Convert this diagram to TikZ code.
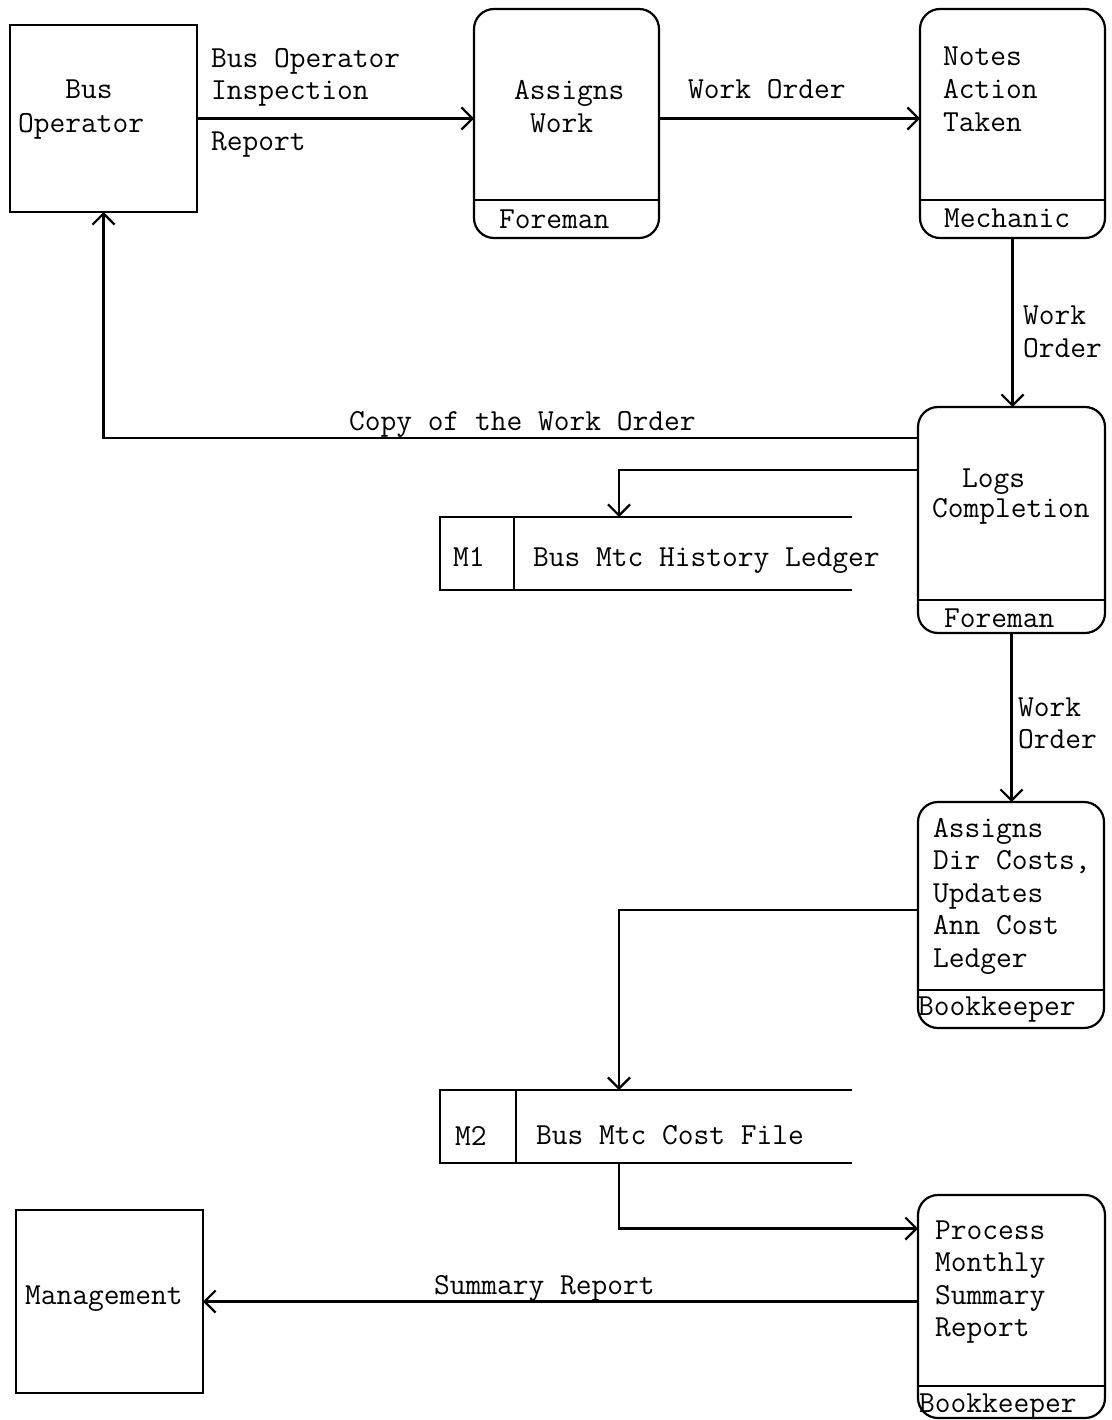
\documentclass[tikz,border=0pt]{standalone}
\usetikzlibrary{arrows.meta,calc}
\begin{document}
\begin{tikzpicture}[x=1pt,y=-1pt,
  every node/.style={font=\fontsize{30.6}{33}\selectfont\ttfamily, inner sep=0pt, outer sep=0pt},
  ent/.style={draw, line width=2.2pt, minimum width=187pt, minimum height=187pt},
  proc/.style={draw, line width=2.2pt, rounded corners=20pt},
  store/.style={inner sep=0pt, minimum width=412pt, minimum height=73pt},
  ln/.style={line width=2.2pt},
  arr/.style={line width=2.2pt, -{Straight Barb[length=11pt,width=22pt,line width=2.2pt]}},
  tx/.style={anchor=base west}
]
\fill[white] (0,0) rectangle (1111,1420);
\useasboundingbox (0,0) rectangle (1111,1420);

% external entities
\node[ent] (busop) at (103.5,118.5) {};
\node[ent, minimum height=183pt] (mgmt) at (109.5,1301.5) {};

% processes
\node[proc, minimum width=185pt, minimum height=229pt] (assign) at (566.5,123.5) {};
\node[proc, minimum width=185pt, minimum height=229pt] (notes) at (1012.5,123.5) {};
\node[proc, minimum width=187pt, minimum height=226pt] (logs) at (1011.5,520) {};
\node[proc, minimum width=186pt, minimum height=226pt] (costs) at (1011,915) {};
\node[proc, minimum width=187pt, minimum height=223pt] (report) at (1011.5,1306.5) {};

% dividers
\draw[ln] (assign.west |- 0,200) -- (assign.east |- 0,200);
\draw[ln] (notes.west |- 0,200) -- (notes.east |- 0,200);
\draw[ln] (logs.west |- 0,600) -- (logs.east |- 0,600);
\draw[ln] (costs.west |- 0,990) -- (costs.east |- 0,990);
\draw[ln] (report.west |- 0,1386) -- (report.east |- 0,1386);

% data stores
\node[store] (m1) at (646,553.5) {};
\draw[ln] (m1.north east) -- (m1.north west) -- (m1.south west) -- (m1.south east);
\draw[ln] (m1.north west -| 514,0) -- (m1.south west -| 514,0);
\node[store] (m2) at (646,1126.5) {};
\draw[ln] (m2.north east) -- (m2.north west) -- (m2.south west) -- (m2.south east);
\draw[ln] (m2.north west -| 516,0) -- (m2.south west -| 516,0);

% texts in boxes
\node[tx] (t1) at (18,99) {\phantom{Ope}Bus};
\node[tx] (t2) at (18,133) {Operator};
\node[tx] (t3) at (514,100) {Assigns};
\node[tx] (t4) at (530,133) {Work};
\node[tx] (t5) at (499,229) {Foreman};
\node[tx] (t6) at (943,66) {Notes};
\node[tx] (t7) at (943,99) {Action};
\node[tx] (t8) at (943,132) {Taken};
\node[tx] (t9) at (944,228) {Mechanic};
\node[tx] (t10) at (962,487) {Logs};
\node[tx] (t11) at (932,517) {Completion};
\node[tx] (t12) at (944,627) {Foreman};
\node[tx] (t13) at (453,566) {M1};
\node[tx] (t14) at (533,566) {Bus Mtc History Ledger};
\node[tx] (t15) at (933,837) {Assigns};
\node[tx] (t16) at (933,869) {Dir Costs,};
\node[tx] (t17) at (933,902) {Updates};
\node[tx] (t18) at (933,934) {Ann Cost};
\node[tx] (t19) at (933,967) {Ledger};
\node[tx] (t20) at (918,1015) {Bookkeeper};
\node[tx] (t21) at (455,1145) {M2};
\node[tx] (t22) at (536,1144) {Bus Mtc Cost File};
\node[tx] (t23) at (935,1239) {Process};
\node[tx] (t24) at (935,1271) {Monthly};
\node[tx] (t25) at (935,1304) {Summary};
\node[tx] (t26) at (935,1336) {Report};
\node[tx] (t27) at (919,1412) {Bookkeeper};
\node[tx] (t28) at (25,1304) {Management};

% connectors
\draw[arr] (busop.east) -- (busop.east -| assign.west);
\draw[arr] (assign.east |- busop.east) -- (notes.west |- busop.east);
\draw[arr] (notes.south) -- (notes.south |- logs.north);
\draw[arr] ($(logs.west)+(0,-82)$) -| (busop.south);
\draw[arr] ($(logs.west)+(0,-50)$) -| ($(m1.north)+(-27,0)$);
\draw[arr] (logs.south) -- (logs.south |- costs.north);
\draw[arr] ($(costs.west)+(0,-5)$) -| ($(m2.north)+(-27,0)$);
\draw[arr] ($(m2.south)+(-27,0)$) |- ($(report.west)+(0,-78)$);
\draw[arr] (report.west |- mgmt.east) -- (mgmt.east);

% connector labels
\node[tx] (l1) at (211,68) {Bus Operator};
\node[tx] (l2) at (211,100) {Inspection};
\node[tx] (l3) at (211,151) {Report};
\node[tx] (l4) at (688,99) {Work Order};
\node[tx] (l5) at (1023,324) {Work};
\node[tx] (l6) at (1023,357) {Order};
\node[tx] (l7) at (349,430) {Copy of the Work Order};
\node[tx] (l8) at (1018,716) {Work};
\node[tx] (l9) at (1018,748) {Order};
\node[tx] (l10) at (434,1294) {Summary Report};
\end{tikzpicture}
\end{document}
